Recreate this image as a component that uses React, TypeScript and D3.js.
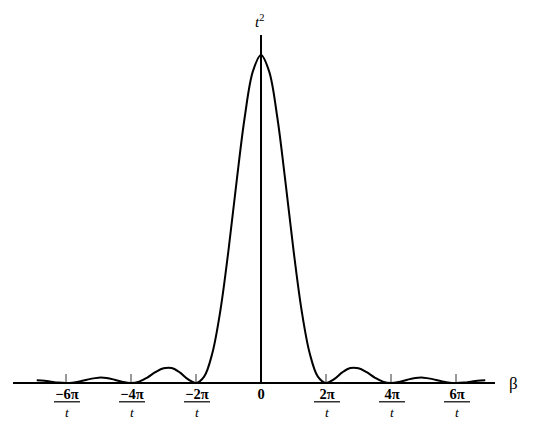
import React from "react";
import * as d3 from "d3";

// β in units of π/t (right half; left half mirrors it)
const betaUnits = [0, 0.25, 0.5, 0.75, 1, 1.25, 1.5, 1.75, 2, 2.25, 2.5, 2.75, 3, 3.25, 3.5, 3.75, 4, 4.25, 4.5, 4.75, 5, 5.25, 5.5, 5.75, 6, 6.25, 6.5, 6.75, 6.9];
// intensity relative to peak t²
const intensity = [1.0, 0.95, 0.811, 0.615, 0.405, 0.221, 0.09, 0.0194, 0, 0.0117, 0.0324, 0.0457, 0.045, 0.0328, 0.0165, 0.0042, 0, 0.0033, 0.01, 0.0153, 0.0162, 0.0126, 0.0067, 0.0018, 0, 0.0015, 0.0048, 0.0076, 0.0083];

const tickUnits = [-6, -4, -2, 0, 2, 4, 6];
const tickNumerators = ["\u22126\u03c0", "\u22124\u03c0", "\u22122\u03c0", "0", "2\u03c0", "4\u03c0", "6\u03c0"];

export default function App() {
  const W = 540, H = 432;
  const x = d3.scaleLinear().domain([0, 2]).range([261, 326]);
  const y = d3.scaleLinear().domain([0, 1]).range([383, 55]);

  const pts: [number, number][] = [];
  for (let i = betaUnits.length - 1; i > 0; i--) pts.push([-betaUnits[i], intensity[i]]);
  for (let i = 0; i < betaUnits.length; i++) pts.push([betaUnits[i], intensity[i]]);

  const line = d3
    .line<[number, number]>()
    .x((d) => x(d[0]))
    .y((d) => y(d[1]))
    .curve(d3.curveCatmullRom.alpha(0.5));

  const font = "'Liberation Serif', 'DejaVu Serif', serif";
  const axisL = x.invert(13);
  const axisR = x.invert(495);

  return (
    <svg width={W} height={H} style={{ position: "absolute", left: 0, top: 0, background: "#fff" }}>
      <rect x={0} y={0} width={W} height={H} fill="#fff" />
      {/* horizontal axis */}
      <line x1={x(axisL)} x2={x(axisR)} y1={y(0)} y2={y(0)} stroke="#000" strokeWidth={2.2} />
      {/* vertical axis */}
      <line x1={x(0)} x2={x(0)} y1={y(0)} y2={y(1.061)} stroke="#000" strokeWidth={2} />
      {/* ticks */}
      {tickUnits.filter((u) => u !== 0).map((u) => (
        <line key={"t" + u} x1={x(u)} x2={x(u)} y1={y(0)} y2={y(0) - 9} stroke="#333" strokeWidth={1} />
      ))}
      {/* curve */}
      <path d={line(pts) || ""} fill="none" stroke="#000" strokeWidth={2} />
      {/* tick labels */}
      {tickUnits.map((u, i) =>
        u === 0 ? (
          <text key={"l" + u} x={x(u)} y={399} textAnchor="middle" fontFamily={font} fontSize={14.5} fontWeight="bold">
            0
          </text>
        ) : (
          <g key={"l" + u}>
            <text x={x(u) + 1} y={399} textAnchor="middle" fontFamily={font} fontSize={14.5} fontWeight="bold">
              {tickNumerators[i]}
            </text>
            <line x1={x(u) - 12} x2={x(u) + 14} y1={401.8} y2={401.8} stroke="#000" strokeWidth={1.2} />
            <text x={x(u) + 1} y={417} textAnchor="middle" fontFamily={font} fontSize={13.5} fontStyle="italic">
              t
            </text>
          </g>
        )
      )}
      {/* axis labels */}
      <text x={509} y={389} fontFamily={font} fontSize={17}>
        β
      </text>
      <text x={x(0) - 6} y={27} fontFamily={font} fontSize={15} fontStyle="italic">
        t
        <tspan fontSize={10.5} fontStyle="normal" dy={-6}>2</tspan>
      </text>
    </svg>
  );
}
